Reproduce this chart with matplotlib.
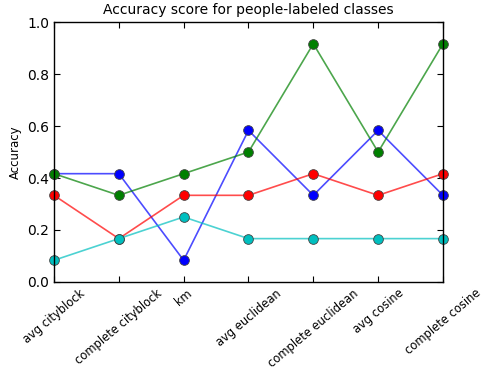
import matplotlib
matplotlib.use('Agg')
import matplotlib.pyplot as plt
import numpy as np

methods = ['avg cityblock', 'complete cityblock', 'km', 'avg euclidean',
           'complete euclidean', 'avg cosine', 'complete cosine']
acc_blue = [5/12, 5/12, 1/12, 7/12, 4/12, 7/12, 4/12]
acc_green = [5/12, 4/12, 5/12, 6/12, 11/12, 6/12, 11/12]
acc_red = [4/12, 2/12, 4/12, 4/12, 5/12, 4/12, 5/12]
acc_cyan = [1/12, 2/12, 3/12, 2/12, 2/12, 2/12, 2/12]

fig = plt.figure(figsize=(4.82, 3.69), dpi=100)
ax = fig.add_axes([0.112, 0.236, 0.807, 0.704])

x = np.arange(len(methods))
for ys, c in [(acc_blue, 'b'), (acc_green, 'g'), (acc_red, 'r'), (acc_cyan, 'c')]:
    ax.plot(x, ys, '-', color=c, alpha=0.7, lw=1.2)
    ax.plot(x, ys, 'o', color=c, markersize=7, markeredgecolor='#444444',
            markeredgewidth=0.6, clip_on=False)

ax.set_xlim(0, 6)
ax.set_ylim(0, 1.0)
ax.set_xticks(x)
ax.set_xticklabels(methods, rotation=40, fontsize=8.3)
ax.set_yticks(np.arange(0, 1.01, 0.2))
ax.tick_params(direction='in', top=True, right=True, labelsize=10, length=4)
ax.tick_params(axis='x', labelsize=8.3)
ax.set_ylabel('Accuracy', fontsize=8.5)
ax.set_title('Accuracy score for people-labeled classes', fontsize=10)
for s in ax.spines.values():
    s.set_linewidth(1.0)

fig.savefig('out.png', dpi=100)
